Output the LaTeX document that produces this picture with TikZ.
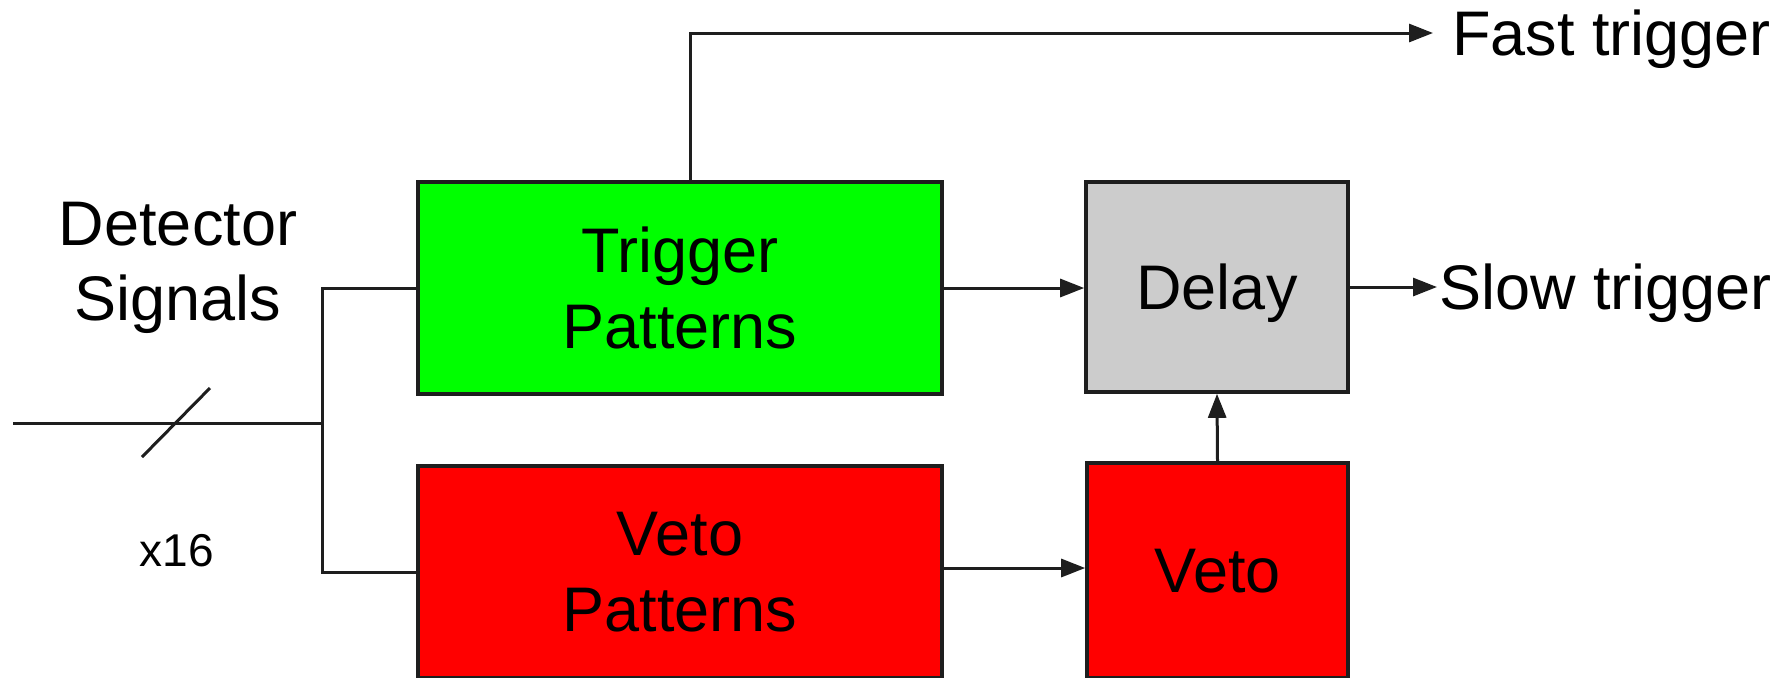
\documentclass[tikz,border=0pt]{standalone}
\usepackage{fontspec}
\setmainfont{Liberation Sans}
\usetikzlibrary{arrows.meta}

\definecolor{linegray}{HTML}{1E1E1E}
\definecolor{trigfill}{HTML}{00FF00}
\definecolor{vetofill}{HTML}{FF0000}
\definecolor{delayfill}{HTML}{CCCCCC}

\tikzset{
  block/.style={draw=linegray, line width=1.8pt, rectangle, align=center,
    inner sep=0pt, text depth=0pt,
    font=\fontsize{31.5pt}{38pt}\selectfont},
  label/.style={inner sep=0pt, text depth=0pt, align=center,
    font=\fontsize{31.5pt}{37.5pt}\selectfont},
  wire/.style={draw=linegray, line width=1.5pt},
  arr/.style={wire, -{Triangle[length=12pt,width=9pt]}}
}

\begin{document}
\begin{tikzpicture}[x=0.5pt, y=-0.5pt]
  \useasboundingbox (0,0) rectangle (1783,677);

  % processing blocks
  \node[block, fill=trigfill, minimum width=262pt, minimum height=106pt]
    (trig) at (680,288) {Trigger\\Patterns};
  \node[block, fill=vetofill, minimum width=262pt, minimum height=106pt]
    (vpat) at (680,572) {Veto\\Patterns};
  \node[block, fill=delayfill, minimum width=131pt, minimum height=105pt]
    (delay) at (1217,287) {Delay};
  \node[block, fill=vetofill, minimum width=130.5pt, minimum height=107.5pt]
    (veto) at (1217.5,570.5) {Veto};

  % free texts
  \node[label] (det) at (178,261) {Detector\\Signals};
  \node[label, font=\fontsize{23pt}{28pt}\selectfont] (mult) at (177,550) {x16};
  \node[label, anchor=west, inner xsep=1pt] (slow) at (1437,287) {Slow trigger};
  \node[label, anchor=west, inner xsep=9.5pt] (fast) at (1433,33) {Fast trigger};

  % input bus with multiplicity slash
  \coordinate (in) at (13,423);
  \coordinate (split) at (322,423);
  \coordinate (s1) at (142,457);
  \coordinate (s2) at (210,388);
  \draw[wire] (in) -- (split);
  \draw[wire] (s1) -- (s2);
  \draw[wire] (trig.west) -| (split) |- (vpat.west);

  % signal flow
  \draw[arr] (trig.east) -- (trig.east -| delay.west);
  \draw[arr] ([yshift=2pt]vpat.east) -- ([yshift=2pt]vpat.east -| veto.west);
  \draw[arr] (veto.north) -- (delay.south);
  \draw[arr] (delay.east) -- (slow.west);
  \draw[arr] ([xshift=5pt]trig.north) |- (fast.west);
\end{tikzpicture}
\end{document}
